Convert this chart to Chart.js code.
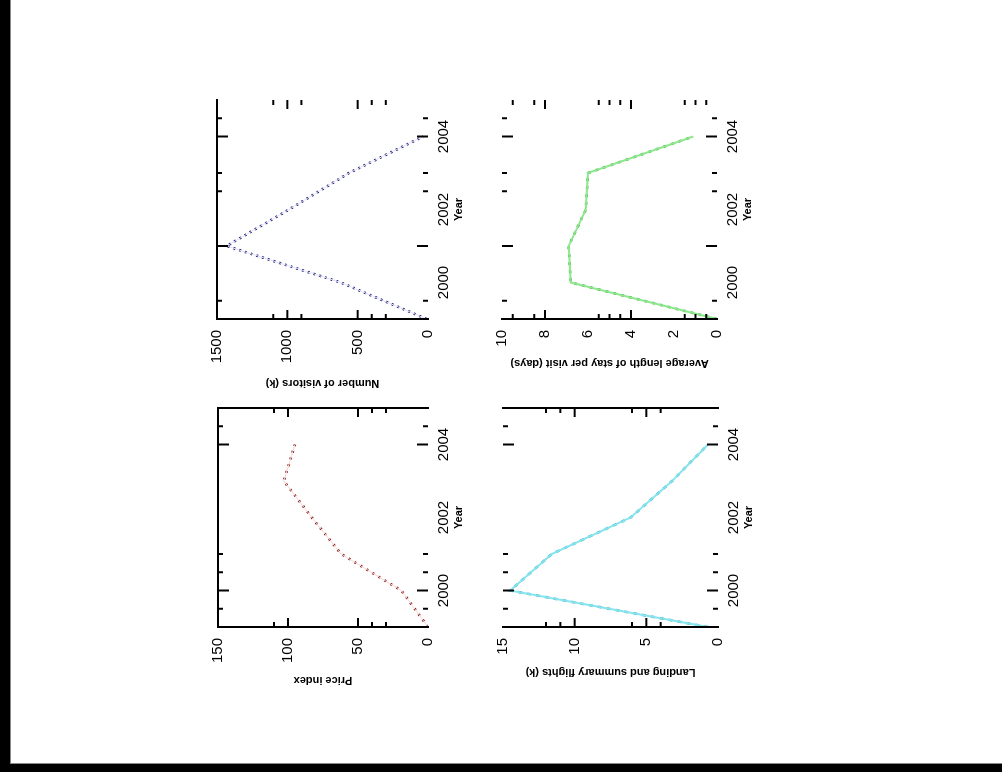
<!DOCTYPE html>
<html>
<head>
<meta charset="utf-8">
<script src="https://cdn.jsdelivr.net/npm/chart.js@4.4.1/dist/chart.umd.min.js"></script>
<style>
html,body{margin:0;padding:0;background:#000;width:1002px;height:772px;overflow:hidden;position:relative}
#page{position:absolute;left:10px;top:0;width:992px;height:764px;background:#fff;border-left:1px solid #888;border-bottom:1px solid #888;box-sizing:border-box}
.panel{position:absolute;overflow:visible}
.rot{position:absolute;left:0;top:0;transform-origin:0 0}
canvas{display:block}
</style>
</head>
<body>
<div id="page"></div>
<script>
// ---- data ----
const years = [1999, 2000, 2001, 2002, 2003, 2004];
const yearLabels = [2000, 2002, 2004];

const visitors   = [10, 620, 1432, 988, 562, 34];
const stayLength = [0, 6.8, 6.9, 6.1, 6.0, 1.1];
const priceIndex = [0, 19, 62, 83, 103, 95];
const landings   = [0.7, 14.5, 11.6, 6.1, 3.2, 0.7];

const visitorTicks = [0, 500, 1000, 1500];
const stayTicks    = [0, 2, 4, 6, 8, 10];
const priceTicks   = [0, 50, 100, 150];
const landingTicks = [0, 5, 10, 15];

const yearMajorA = [2001, 2004];
const yearMinorA = [1999.5, 2002.5, 2003, 2004.5];
const yearMajorB = [2000, 2004];
const yearMinorB = [1999.5, 2000.5, 2001, 2004.5];

const visitorMajor = [500, 1000];
const visitorMinor = [300, 400, 900, 1100];
const stayMajor = [4, 8];
const stayMinor = [0.5, 1, 1.5, 4.5, 5, 5.5, 8.5, 9.5];
const priceMajor = [50, 100];
const priceMinor = [30, 40, 110];
const landingMajor = [5, 10];
const landingMinor = [4, 6, 11, 12];

// ---- layout / style (not data) ----
const FONT = "'Liberation Sans', Arial, sans-serif";
const Lm = 12, Tm = 12, Rm = 38;

const panels = [
  { X0: 209, Y0: 100, W: 219, H: 219, Bm: 71, values: visitors, max: 1500, labels: visitorTicks,
    yMajor: visitorMajor, yMinor: visitorMinor, xMajor: yearMajorA, xMinor: yearMinorA,
    title: 'Number of visitors (k)', faint: '#e2e2f8', fw: 1, dark: '#14146e', dash: [2, 4], sides: ['top', 'left'] },
  { X0: 494, Y0: 100, W: 223, H: 219, Bm: 51, values: stayLength, max: 10, labels: stayTicks,
    yMajor: stayMajor, yMinor: stayMinor, xMajor: yearMajorA, xMinor: yearMinorA,
    title: 'Average length of stay per visit (days)', faint: '#8ce88c', fw: 2, dark: '#34a034', dash: [3, 5], sides: ['left'] },
  { X0: 210, Y0: 408, W: 218, H: 219, Bm: 60, values: priceIndex, max: 150, labels: priceTicks,
    yMajor: priceMajor, yMinor: priceMinor, xMajor: yearMajorB, xMinor: yearMinorB,
    title: 'Price index', faint: '#f8d4d4', fw: 1, dark: '#801818', dash: [2, 5], sides: ['top', 'right', 'left'] },
  { X0: 495, Y0: 408, W: 223, H: 219, Bm: 52, values: landings, max: 15, labels: landingTicks,
    yMajor: landingMajor, yMinor: landingMinor, xMajor: yearMajorB, xMinor: yearMinorB,
    title: 'Landing and summary flights (k)', faint: '#86e4ee', fw: 2, dark: '#3cb0c0', dash: [4, 5], sides: ['right', 'left'] }
];

function makeFramePlugin(p) {
  return {
    id: 'frameTicks',
    afterDatasetsDraw(chart) {
      const { ctx, chartArea: a, scales: { x, y } } = chart;
      ctx.save();
      ctx.strokeStyle = '#000';
      ctx.lineWidth = 2;
      const seg = (x1, y1, x2, y2) => { ctx.beginPath(); ctx.moveTo(x1, y1); ctx.lineTo(x2, y2); ctx.stroke(); };
      const xt = (list, len) => list.forEach(v => {
        const px = x.getPixelForValue(v);
        seg(px, a.bottom, px, a.bottom - len);
        seg(px, a.top, px, a.top + len);
      });
      const yt = (list, len) => list.forEach(v => {
        const py = y.getPixelForValue(v);
        seg(a.left, py, a.left + len, py);
        seg(a.right, py, a.right - len, py);
      });
      xt(p.xMajor, 11); xt(p.xMinor, 5);
      yt(p.yMajor, 9); yt(p.yMinor, 5);
      p.sides.forEach(s => {
        if (s === 'top') seg(a.left - 1, a.top, a.right + 1, a.top);
        if (s === 'bottom') seg(a.left - 1, a.bottom, a.right + 1, a.bottom);
        if (s === 'left') seg(a.left, a.top - 1, a.left, a.bottom + 1);
        if (s === 'right') seg(a.right, a.top - 1, a.right, a.bottom + 1);
      });
      ctx.restore();
    }
  };
}

panels.forEach(p => {
  const sw = p.W + Lm + Rm;        // screen width
  const sh = p.H + Tm + p.Bm;      // screen height
  const panel = document.createElement('div');
  panel.className = 'panel';
  panel.style.left = (p.X0 - Lm) + 'px';
  panel.style.top = (p.Y0 - Tm) + 'px';
  panel.style.width = sw + 'px';
  panel.style.height = sh + 'px';
  const rot = document.createElement('div');
  rot.className = 'rot';
  rot.style.width = sh + 'px';
  rot.style.height = sw + 'px';
  rot.style.transform = 'translateY(' + sh + 'px) rotate(-90deg)';
  const canvas = document.createElement('canvas');
  canvas.width = sh; canvas.height = sw;
  canvas.style.width = sh + 'px'; canvas.style.height = sw + 'px';
  rot.appendChild(canvas);
  panel.appendChild(rot);
  document.body.appendChild(panel);

  const pts = years.map((yr, i) => ({ x: yr, y: p.values[i] }));
  new Chart(canvas, {
    type: 'line',
    data: {
      datasets: [
        { data: pts, borderColor: p.faint, borderWidth: p.fw, pointRadius: 0, tension: 0 },
        { data: pts, borderColor: p.dark, borderWidth: 2.5, borderDash: p.dash, pointRadius: 0, tension: 0 }
      ]
    },
    options: {
      responsive: false,
      animation: false,
      devicePixelRatio: 1,
      layout: { padding: { left: 0, top: Lm, right: Tm, bottom: 0 } },
      plugins: { legend: { display: false }, tooltip: { enabled: false } },
      scales: {
        x: {
          type: 'linear', min: 1999, max: 2005, position: 'bottom',
          grid: { display: false, drawTicks: false }, border: { display: false },
          ticks: { padding: 7, color: '#000', font: { family: FONT, size: 15 }, maxRotation: 0, minRotation: 0, autoSkip: false,
                   callback: v => String(v) },
          title: { display: true, text: 'Year', color: '#000', font: { family: FONT, size: 11, weight: 'bold' }, padding: 0 },
          afterBuildTicks: s => { s.ticks = yearLabels.map(v => ({ value: v })); },
          afterFit: s => { s.height = Rm; }
        },
        y: {
          type: 'linear', min: 0, max: p.max, position: 'left',
          grid: { display: false, drawTicks: false }, border: { display: false },
          ticks: { padding: 11, color: '#000', font: { family: FONT, size: 15 }, autoSkip: false,
                   callback: v => String(v) },
          title: { display: true, text: p.title, color: '#000', font: { family: FONT, size: 11, weight: 'bold' }, padding: 0 },
          afterBuildTicks: s => { s.ticks = p.labels.map(v => ({ value: v })); },
          afterFit: s => { s.width = p.Bm; }
        }
      }
    },
    plugins: [makeFramePlugin(p)]
  });
});
</script>
</body>
</html>
